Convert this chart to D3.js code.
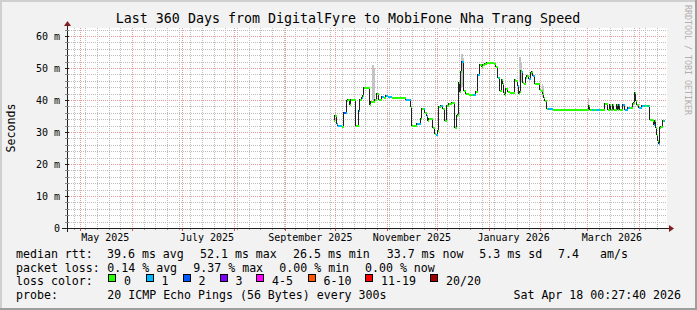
<!DOCTYPE html>
<html>
<head>
<meta charset="utf-8">
<script src="https://cdn.jsdelivr.net/npm/d3@7"></script>
<style>
  body { margin: 0; background: #f2f2f2; }
  svg { display: block; }
  text { font-family: "DejaVu Sans Mono", monospace; }
</style>
</head>
<body>
<svg></svg>
<script>
const width = 697,
  height = 310;

// Plot area (rrdtool canvas)
const plotLeft = 67, plotTop = 28, plotW = 600, plotH = 200;

// Time window: last 360 days ending at the graph time
const endTime = new Date(2026, 3, 18, 0, 27, 40);
const spanDays = 360;
const stepSeconds = 51840; // one consolidated row per step

// Median rtt samples: row number in the window, median (ms), packets lost of 20
const sampleRow = [266, 267, 269, 270, 272, 274, 276, 278, 279, 280, 282, 283, 288, 291, 292, 294, 295, 296,
  302, 303, 307, 309, 311, 314, 316, 318, 320, 324, 338, 343, 344, 349, 353, 354, 356, 357, 359, 360, 361,
  365, 367, 368, 370, 371, 373, 375, 377, 379, 381, 384, 387, 389, 390, 391, 392, 393, 394, 396, 398, 401,
  405, 408, 410, 412, 414, 415, 417, 419, 426, 428, 430, 431, 432, 434, 435, 436, 437, 438, 440, 442, 447,
  448, 450, 451, 452, 453, 454, 455, 456, 458, 459, 461, 463, 464, 465, 467, 472, 473, 475, 476, 477, 479,
  480, 485, 521, 522, 524, 526, 528, 532, 537, 539, 540, 542, 543, 545, 546, 549, 550, 551, 552, 555, 557,
  560, 562, 565, 566, 567, 568, 569, 571, 574, 577, 579, 581, 582, 585, 586, 587, 588, 589, 590, 591, 592,
  593, 595, 596];
const medianMs = [33.7, 35.3, 32.9, 32.3, 32.2, 32.0, 36.3, 36.3, 40.0, 40.4, 38.8, 40.4, 32.2, 36.9, 40.4, 40.8, 41.6, 44.2,
  38.6, 39.8, 40.3, 42.3, 40.4, 41.3, 40.8, 41.5, 41.2, 40.8, 40.4, 38.1, 32.2, 32.7, 34.3, 37.4, 37.4, 36.3, 35.3, 33.8, 34.3,
  31.5, 29.6, 29.4, 30.6, 38.1, 38.5, 37.5, 33.8, 38.4, 39.0, 39.4, 31.7, 35.3, 35.6, 45.7, 42.9, 49.0, 52.1, 43.1, 42.1, 41.9,
  41.9, 42.9, 48.1, 51.2, 50.6, 51.2, 51.7, 51.9, 51.6, 50.6, 47.1, 47.1, 43.1, 46.5, 45.2, 42.6, 41.9, 43.6, 42.9, 42.6, 46.5,
  46.2, 44.7, 42.3, 42.9, 49.4, 49.2, 45.7, 45.2, 47.3, 47.8, 46.8, 48.9, 49.2, 47.8, 45.2, 43.3, 43.1, 42.1, 41.0, 40.0, 37.5,
  37.6, 37.3, 38.4, 37.3, 37.3, 37.3, 37.3, 37.3, 39.0, 39.2, 37.3, 38.6, 37.3, 38.6, 37.3, 38.6, 37.3, 38.6, 37.3, 38.9, 37.3,
  37.9, 37.9, 39.0, 39.5, 42.6, 40.0, 38.9, 37.9, 38.3, 38.3, 38.3, 38.3, 34.2, 33.8, 32.5, 33.8, 31.7, 29.4, 27.5, 26.5, 31.6,
  31.9, 33.8, 33.7];
const lostPings = [0, 0, 1, 1, 1, 0, 2, 1, 0, 0, 0, 0, 0, 1, 0, 1, 0, 0,
  0, 0, 0, 0, 0, 1, 0, 1, 1, 0, 1, 0, 0, 1, 0, 0, 1, 0, 1, 0, 0,
  0, 0, 1, 0, 0, 1, 0, 0, 0, 0, 0, 0, 0, 0, 0, 0, 0, 1, 0, 0, 0,
  1, 0, 1, 0, 0, 0, 0, 0, 0, 0, 0, 1, 0, 0, 0, 0, 0, 0, 0, 0, 0,
  0, 1, 0, 0, 0, 1, 0, 0, 0, 0, 1, 0, 0, 1, 0, 0, 0, 0, 0, 0, 0,
  1, 0, 0, 0, 1, 0, 1, 0, 0, 0, 0, 0, 0, 0, 0, 0, 0, 1, 0, 1, 1,
  1, 0, 0, 0, 0, 0, 0, 1, 1, 0, 1, 0, 0, 0, 1, 0, 0, 0, 0, 1, 0,
  0, 0, 1];

// Smoke (spread of the individual pings) where it shows outside the median line
const smokeRow = [305, 306, 307, 394, 395, 396, 452, 453, 454, 475, 476, 521];
const smokeLo = [40.0, 40.0, 40.0, 44.0, 44.0, 44.0, 46.0, 46.0, 46.0, 41.0, 41.0, 37.5];
const smokeHi = [51.0, 51.0, 50.0, 54.5, 54.5, 53.0, 53.5, 53.5, 52.0, 45.0, 44.5, 40.5];

// Loss colour legend
const lossLabels = ["0", "1", "2", "3", "4-5", "6-10", "11-19", "20/20"];
const lossMax = [0, 1, 2, 3, 5, 10, 19, 20];
const lossColors = ["#26ff00", "#00b8ff", "#0059ff", "#7e00ff", "#ff00ff", "#ff5500", "#ff0000", "#a10000"];

// Summary figures printed below the graph
const rttStats = ["39.6 ms avg", "52.1 ms max", "26.5 ms min", "33.7 ms now", "5.3 ms sd", "7.4", "am/s"];
const lossStats = ["0.14 % avg", "9.37 % max", "0.00 % min", "0.00 % now"];

const startTime = d3.timeDay.offset(endTime, -spanDays);
const rowTime = r => new Date(startTime.getTime() + r * stepSeconds * 1000);

const svg = d3.select("svg")
  .attr("width", width)
  .attr("height", height);

// background + 3D frame
svg.append("rect").attr("width", width).attr("height", height).attr("fill", "#f2f2f2");
svg.append("path").attr("d", `M0,${height} V0 H${width}`).attr("fill", "none")
  .attr("stroke", "#cfcfcf").attr("stroke-width", 4);
svg.append("path").attr("d", `M0,${height} H${width} V0`).attr("fill", "none")
  .attr("stroke", "#9e9e9e").attr("stroke-width", 4);

const x = d3.scaleTime().domain([startTime, endTime]).range([plotLeft, plotLeft + plotW]);
const y = d3.scaleLinear().domain([0, 62.5]).range([plotTop + plotH, plotTop]);

svg.append("rect").attr("x", plotLeft).attr("y", plotTop).attr("width", plotW).attr("height", plotH).attr("fill", "#fff");

const grid = svg.append("g").attr("shape-rendering", "crispEdges");
const minorCol = "#bdbdbd", majorCol = "#e99a9a";

// horizontal grid: 2 ms minor, 10 ms major
d3.range(0, 62.5, 2).forEach(v => {
  if (v === 0) return;
  const yy = Math.round(y(v)) + 0.5;
  grid.append("line").attr("x1", plotLeft).attr("x2", plotLeft + plotW).attr("y1", yy).attr("y2", yy)
    .attr("stroke", v % 10 === 0 ? majorCol : minorCol).attr("stroke-dasharray", "1,1");
});

// vertical grid: weeks (Sunday) minor, months major
const weeks = d3.timeSunday.range(startTime, endTime);
const months = d3.timeMonth.range(startTime, endTime);
weeks.forEach(t => {
  const xx = Math.round(x(t)) + 0.5;
  grid.append("line").attr("x1", xx).attr("x2", xx).attr("y1", plotTop).attr("y2", plotTop + plotH)
    .attr("stroke", minorCol).attr("stroke-dasharray", "1,1");
  grid.append("line").attr("x1", xx).attr("x2", xx).attr("y1", plotTop + plotH).attr("y2", plotTop + plotH + 2)
    .attr("stroke", "#999");
});
months.forEach(t => {
  const xx = Math.round(x(t)) + 0.5;
  grid.append("line").attr("x1", xx).attr("x2", xx).attr("y1", plotTop).attr("y2", plotTop + plotH)
    .attr("stroke", majorCol).attr("stroke-dasharray", "1,1");
  grid.append("line").attr("x1", xx).attr("x2", xx).attr("y1", plotTop + plotH).attr("y2", plotTop + plotH + 3)
    .attr("stroke", "#e05050");
});

// smoke
const smoke = svg.append("g").attr("shape-rendering", "crispEdges");
smokeRow.forEach((r, i) => {
  const x0 = Math.round(x(rowTime(r)));
  smoke.append("rect")
    .attr("x", x0).attr("width", 1)
    .attr("y", y(smokeHi[i])).attr("height", y(smokeLo[i]) - y(smokeHi[i]))
    .attr("fill", "#c4c4c4");
});

// median line (black) with loss-coloured ticks on top
const pts = sampleRow.map((r, i) => ({ r, v: medianMs[i], lost: lostPings[i] }));
const nextRow = i => (i + 1 < pts.length ? pts[i + 1].r : pts[i].r + 1);

const line = d3.line()
  .x(d => Math.round(x(rowTime(d.r))) + 0.5)
  .y(d => Math.round(y(d.v)) + 0.5)
  .curve(d3.curveStepAfter);
svg.append("path")
  .datum(pts.concat([{ r: pts[pts.length - 1].r + 1, v: pts[pts.length - 1].v }]))
  .attr("d", line)
  .attr("fill", "none")
  .attr("stroke", "#202020")
  .attr("stroke-width", 1)
  .attr("shape-rendering", "crispEdges");

const colourFor = lost => lossColors[lossMax.findIndex(m => lost <= m)];
svg.append("g").attr("shape-rendering", "crispEdges")
  .selectAll("rect")
  .data(pts)
  .enter()
  .append("rect")
  .attr("x", d => Math.round(x(rowTime(d.r))) + 1)
  .attr("width", (d, i) => Math.max(1, Math.round(x(rowTime(nextRow(i)))) - Math.round(x(rowTime(d.r)))))
  .attr("y", d => Math.round(y(d.v)) - 0.5)
  .attr("height", 2)
  .attr("fill", d => colourFor(d.lost));

// axes
const axis = svg.append("g").attr("shape-rendering", "crispEdges");
axis.append("line").attr("x1", plotLeft - 5).attr("x2", plotLeft + plotW + 5)
  .attr("y1", plotTop + plotH + 0.5).attr("y2", plotTop + plotH + 0.5).attr("stroke", "#1f1f1f");
axis.append("line").attr("x1", plotLeft + 0.5).attr("x2", plotLeft + 0.5)
  .attr("y1", plotTop - 4).attr("y2", plotTop + plotH + 4).attr("stroke", "#1f1f1f");
d3.range(0, 62.5, 2).forEach(v => {
  const yy = Math.round(y(v)) + 0.5;
  axis.append("line").attr("x1", plotLeft - 2).attr("x2", plotLeft + 2).attr("y1", yy).attr("y2", yy)
    .attr("stroke", v % 10 === 0 ? "#1f1f1f" : "#888");
});
svg.append("path").attr("d", `M${plotLeft - 3},${plotTop - 2} L${plotLeft + 4},${plotTop - 2} L${plotLeft + 0.5},${plotTop - 7} Z`)
  .attr("fill", "#801f1f");
svg.append("path").attr("d", `M${plotLeft + plotW + 2},${plotTop + plotH - 3} L${plotLeft + plotW + 2},${plotTop + plotH + 4} L${plotLeft + plotW + 7},${plotTop + plotH + 0.5} Z`)
  .attr("fill", "#801f1f");

// y labels
d3.range(0, 61, 10).forEach(v => {
  svg.append("text")
    .attr("x", 60).attr("y", y(v) + 4)
    .attr("text-anchor", "end")
    .style("font-size", "10px")
    .text(v === 0 ? "0" : v + " m");
});

// x labels: every second month, centred on mid-month
const fmt = d3.timeFormat("%B %Y");
d3.timeMonth.every(2).range(startTime, endTime).forEach(t => {
  const mid = d3.timeDay.offset(t, 15);
  svg.append("text")
    .attr("x", x(mid)).attr("y", 241)
    .attr("text-anchor", "middle")
    .style("font-size", "10px")
    .text(fmt(t));
});

// title, unit, watermark
svg.append("text").attr("x", 348).attr("y", 23).attr("text-anchor", "middle")
  .style("font-size", "13.3px")
  .text("Last 360 Days from DigitalFyre to MobiFone Nha Trang Speed");
svg.append("text").attr("transform", "translate(15,128) rotate(-90)").attr("text-anchor", "middle")
  .style("font-size", "11.6px").text("Seconds");
svg.append("text").attr("transform", "translate(685,5) rotate(90)")
  .style("font-size", "8.3px").attr("fill", "#b0b0b0")
  .text("RRDTOOL / TOBI OETIKER");

// legend
const legend = svg.append("g").style("font-size", "11.6px");
const rows = [258, 271.6, 285.2, 298.8];
legend.append("text").attr("x", 16).attr("y", rows[0]).text("median rtt:");
[107, 200, 293, 386.7, 479.3, 558, 600].forEach((xx, i) =>
  legend.append("text").attr("x", xx).attr("y", rows[0]).text(rttStats[i]));
legend.append("text").attr("x", 16).attr("y", rows[1]).text("packet loss:");
[107.3, 193.3, 279.3, 365].forEach((xx, i) =>
  legend.append("text").attr("x", xx).attr("y", rows[1]).text(lossStats[i]));
legend.append("text").attr("x", 16).attr("y", rows[2]).text("loss color:");
[108, 145.5, 182.5, 219.5, 256, 307.5, 365, 430].forEach((xx, i) => {
  legend.append("rect").attr("x", xx + 0.5).attr("y", 274.5).attr("width", 7).attr("height", 7)
    .attr("fill", lossColors[i]).attr("stroke", "#000").attr("shape-rendering", "crispEdges");
  legend.append("text").attr("x", xx + 16).attr("y", rows[2]).text(lossLabels[i]);
});
legend.append("text").attr("x", 16).attr("y", rows[3]).text("probe:");
legend.append("text").attr("x", 107.3).attr("y", rows[3]).text("20 ICMP Echo Pings (56 Bytes) every 300s");
legend.append("text").attr("x", 681).attr("y", rows[3]).attr("text-anchor", "end")
  .text("Sat Apr 18 00:27:40 2026");
</script>
</body>
</html>
